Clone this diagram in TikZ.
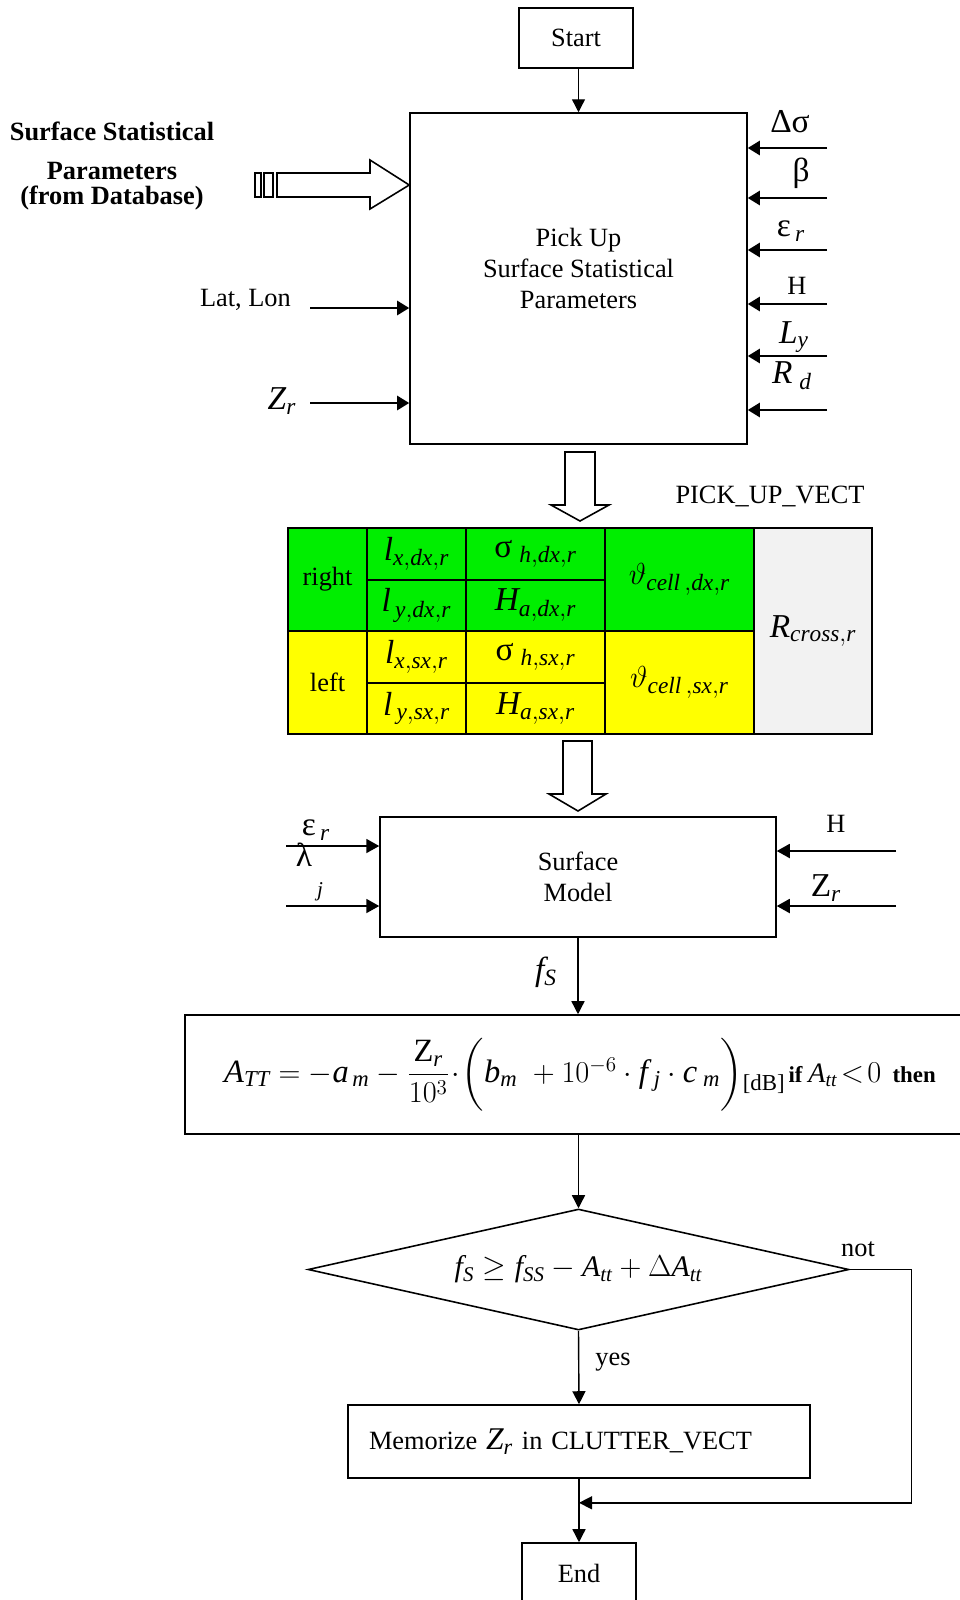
\documentclass[tikz,border=0pt]{standalone}
\usepackage{amsmath}
\usepackage{fontspec}
\setmainfont{Liberation Serif}
\usepackage{xcolor}
\usepackage{tikz}
\usetikzlibrary{arrows.meta,shapes.geometric,positioning,calc}
\definecolor{grn}{HTML}{00EE00}
\definecolor{ylw}{HTML}{FFFF00}
\definecolor{gry}{HTML}{F2F2F2}
\newcommand{\vi}[1]{\mathit{#1}}

\begin{document}
\begin{tikzpicture}[
  x=0.02cm,
  y=-0.02cm,
  every node/.style={font=\fontsize{15}{17.4}\selectfont},
  box/.style={draw, line width=0.9pt, inner sep=0pt, align=center},
  decision/.style={diamond, aspect=4.47, draw, line width=0.9pt, inner sep=0pt},
  cell/.style={draw, line width=1.2pt, inner sep=0pt, anchor=north west, align=center},
  big/.style={font=\fontsize{19}{21}\selectfont},
  small/.style={font=\fontsize{12}{14}\selectfont},
  arr/.style={-{Triangle[length=2.6mm,width=2.6mm]}, line width=0.8pt},
  inarr/.style={-{Triangle[length=2.4mm,width=2.8mm]}, line width=1.4pt},
  sidearr/.style={-{Triangle[length=2.6mm,width=2.8mm]}, line width=1.1pt},
  hollow/.style={draw, line width=0.9pt, fill=white}
]
\useasboundingbox (0,0) rectangle (960,1600);

\node[box, minimum width=2.28cm, minimum height=1.2cm] (start) at (576,38) {Start};
\node[box, minimum width=6.74cm, minimum height=6.62cm, text depth=11.5pt] (pu) at (578.5,278.5) {Pick Up\\Surface Statistical\\Parameters};
\draw[arr] (pu.north |- start.south) -- (pu.north);

\node[font=\bfseries\fontsize{15}{14}\selectfont, align=center] (ssp) at (112,166) {Surface Statistical\\[0.3cm]Parameters\\(from Database)};
\draw[hollow] (255,173) rectangle (261,197);
\draw[hollow] (264,173) rectangle (273,197);
\draw[hollow] (277,173) -- (370,173) -- (370,160) -- (pu.west |- 0,185) -- (370,209) -- (370,197) -- (277,197) -- cycle;

\node[anchor=east] (ll) at (297,300) {Lat, Lon};
\coordinate (ll0) at (310,308);
\draw[inarr] (ll0) -- (ll0 -| pu.west);
\node[big] (zr) at (282,401) {$\vi{Z}_{\vi{r}}$};
\coordinate (zr0) at (310,403);
\draw[inarr] (zr0) -- (zr0 -| pu.west);

\node[big] (lds) at (790,122) {Δσ};
\node[big] (lbt) at (801,173) {β};
\node[big] (lep) at (791,231) {ε$_{\,\vi{r}}$};
\node (lh) at (797,286) {H};
\node[big] (lly) at (794,337) {$\vi{L}_{\vi{y}}$};
\node[big] (lrd) at (792,376) {$\vi{R}_{\;\vi{d}}$};
\coordinate (r1) at (827,148);
\coordinate (r2) at (827,198);
\coordinate (r3) at (827,250);
\coordinate (r4) at (827,304);
\coordinate (r5) at (827,356);
\coordinate (r6) at (827,410);
\foreach \c in {r1,r2,r3,r4,r5,r6}
  \draw[inarr] (\c) -- (\c -| pu.east);

\draw[hollow] (565,452) -- (595,452) -- (595,505) -- (609,505) -- (580,521) -- (551,505) -- (565,505) -- cycle;
\node (puv) at (770,496) {PICK\_UP\_VECT};

\node[cell, fill=grn, minimum width=1.58cm, minimum height=2.06cm] (rgt) at (287,527) {right};
\node[cell, fill=grn, minimum width=1.98cm, minimum height=1.03cm, big] (lxdx) at (366,527) {$\vi{l}_{\vi{x,dx,r}}$};
\node[cell, fill=grn, minimum width=1.98cm, minimum height=1.03cm, big] (lydx) at (366,578.5) {$\vi{l}_{\,\vi{y,dx,r}}$};
\node[cell, fill=grn, minimum width=2.78cm, minimum height=1.03cm, big] (sgdx) at (465,527) {σ$_{\;\vi{h,dx,r}}$};
\node[cell, fill=grn, minimum width=2.78cm, minimum height=1.03cm, big] (hadx) at (465,578.5) {$\vi{H}_{\vi{a,dx,r}}$};
\node[cell, fill=grn, minimum width=2.98cm, minimum height=2.06cm, big] (thdx) at (604,527) {$\vartheta_{\vi{cell}\,\vi{,dx,r}}$};
\node[cell, fill=ylw, minimum width=1.58cm, minimum height=2.06cm] (lft) at (287,630) {left};
\node[cell, fill=ylw, minimum width=1.98cm, minimum height=1.03cm, big] (lxsx) at (366,630) {$\vi{l}_{\vi{x,sx,r}}$};
\node[cell, fill=ylw, minimum width=1.98cm, minimum height=1.03cm, big] (lysx) at (366,681.5) {$\vi{l}_{\,\vi{y,sx,r}}$};
\node[cell, fill=ylw, minimum width=2.78cm, minimum height=1.03cm, big] (sgsx) at (465,630) {σ$_{\;\vi{h,sx,r}}$};
\node[cell, fill=ylw, minimum width=2.78cm, minimum height=1.03cm, big] (hasx) at (465,681.5) {$\vi{H}_{\vi{a,sx,r}}$};
\node[cell, fill=ylw, minimum width=2.98cm, minimum height=2.06cm, big] (thsx) at (604,630) {$\vartheta_{\vi{cell}\,\vi{,sx,r}}$};
\node[cell, fill=gry, minimum width=2.36cm, minimum height=4.12cm, big] (rc) at (753,527) {$\vi{R}_{\vi{cross,r}}$};

\draw[hollow] (563,741) -- (592,741) -- (592,794) -- (606,794) -- (578,811) -- (549,794) -- (563,794) -- cycle;

\node[box, minimum width=7.92cm, minimum height=2.4cm] (sm) at (578,877) {Surface\\Model};
\coordinate (s1) at (286,846);
\coordinate (s2) at (286,906);
\coordinate (s3) at (896,851);
\coordinate (s4) at (896,906);
\draw[sidearr] (s1) -- (s1 -| sm.west);
\draw[sidearr] (s2) -- (s2 -| sm.west);
\draw[sidearr] (s3) -- (s3 -| sm.east);
\draw[sidearr] (s4) -- (s4 -| sm.east);
\node[big] (sep) at (316,830) {ε$_{\,\vi{r}}$};
\node[big] (slm) at (304,855) {λ};
\node[small] (sj) at (320,892) {$\vi{j}$};
\node (sh) at (836,824) {H};
\node[big] (szr) at (826,888) {$\mathrm{Z}_{\vi{r}}$};

\node[box, minimum width=15.8cm, minimum height=2.38cm] (fm) at (580,1074.5) {{\fontsize{18.5}{22}\selectfont$\vi{A}_{\vi{TT}}=-\vi{a}_{\,\vi{m}}-\dfrac{\mathrm{Z}_{\vi{r}}}{10^3}\!\cdot\!\biggl(\vi{b}_{\vi{m}}\;+10^{-6}\cdot\vi{f}_{\;\vi{j}}\cdot\vi{c}_{\;\vi{m}}\biggr)$}{\fontsize{13}{16}\selectfont\raisebox{-5pt}{[dB]}\,\textbf{if} {\fontsize{16}{20}\selectfont$\vi{A}_{\vi{tt}}\!<\!0$}\ \ \textbf{then}}};
\draw[arr] (sm.south) -- (sm.south |- fm.north);
\node[big] (fs) at (546,972) {$\vi{f}_{\vi{S}}$};

\node[decision, minimum width=10.82cm, minimum height=2.42cm] (dec) at (578.5,1269.5) {\fontsize{17}{20}\selectfont$\vi{f}_{\vi{S}}\geq\vi{f}_{\vi{SS}}-\vi{A}_{\vi{tt}}+\Delta\vi{A}_{\vi{tt}}$};
\draw[arr] (dec.north |- fm.south) -- (dec.north);
\node (no) at (858,1249) {not};

\node[box, minimum width=9.24cm, minimum height=1.46cm, text width=8.4cm, align=left] (mem) at (579,1441.5) {Memorize {\fontsize{18}{20}\selectfont$\vi{Z}_{\vi{r}}$}\ in CLUTTER\_VECT};
\draw[arr] (dec.south) -- (mem.north);
\node (yes) at (613,1362) {yes};

\node[box, minimum width=2.28cm, minimum height=1.2cm] (stop) at (579,1573) {End};
\path (mem.south) ++(0,24) coordinate (mj);
\draw[arr] (mem.south) -- (stop.north);
\draw[arr] (dec.east) -- ++(62,0) |- (mj);
\end{tikzpicture}
\end{document}
